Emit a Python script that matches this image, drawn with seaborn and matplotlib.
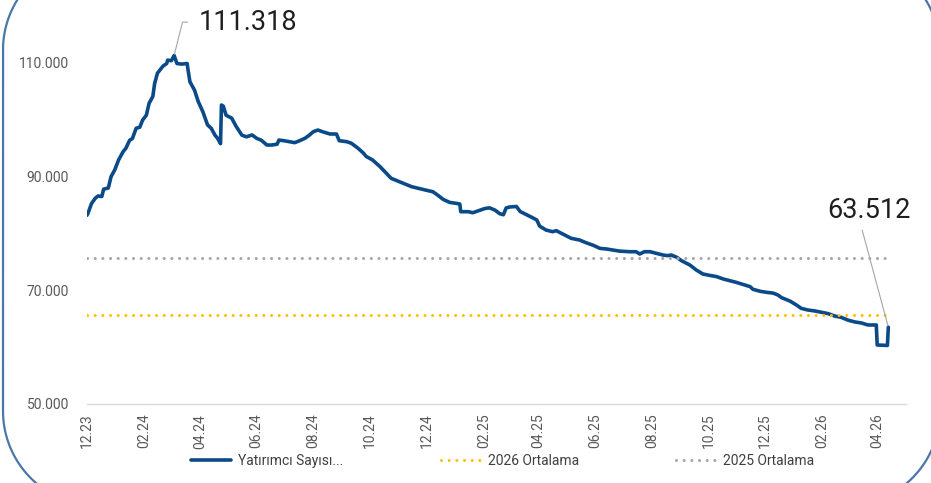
import matplotlib
matplotlib.use("Agg")
import matplotlib.pyplot as plt
import matplotlib.dates as mdates
from matplotlib.ticker import FuncFormatter, FixedLocator
import seaborn as sns
import pandas as pd
import numpy as np

# investor count
dates = [
    "2023-12-01", "2023-12-02", "2023-12-06", "2023-12-10", "2023-12-13", "2023-12-17",
    "2023-12-19", "2023-12-24", "2023-12-27", "2023-12-31", "2024-01-04", "2024-01-09",
    "2024-01-12", "2024-01-16", "2024-01-19", "2024-01-23", "2024-01-27", "2024-01-30",
    "2024-02-03", "2024-02-06", "2024-02-10", "2024-02-12", "2024-02-15", "2024-02-21",
    "2024-02-25", "2024-02-26", "2024-03-01", "2024-03-04", "2024-03-07", "2024-03-12",
    "2024-03-18", "2024-03-19", "2024-03-21", "2024-03-26", "2024-03-30", "2024-04-04",
    "2024-04-09", "2024-04-13", "2024-04-17", "2024-04-20", "2024-04-23", "2024-04-24",
    "2024-04-26", "2024-04-29", "2024-05-05", "2024-05-10", "2024-05-16", "2024-05-21",
    "2024-05-27", "2024-06-01", "2024-06-06", "2024-06-12", "2024-06-17", "2024-06-23",
    "2024-06-25", "2024-07-01", "2024-07-06", "2024-07-12", "2024-07-17", "2024-07-23",
    "2024-07-28", "2024-08-01", "2024-08-06", "2024-08-11", "2024-08-19", "2024-08-26",
    "2024-08-29", "2024-09-06", "2024-09-11", "2024-09-18", "2024-09-24", "2024-09-27",
    "2024-10-04", "2024-10-12", "2024-10-19", "2024-10-24", "2024-10-31", "2024-11-08",
    "2024-11-15", "2024-11-22", "2024-11-30", "2024-12-08", "2024-12-13", "2024-12-19",
    "2024-12-26", "2025-01-02", "2025-01-06", "2025-01-07", "2025-01-15", "2025-01-20",
    "2025-01-26", "2025-02-02", "2025-02-07", "2025-02-13", "2025-02-18", "2025-02-22",
    "2025-02-25", "2025-03-01", "2025-03-08", "2025-03-12", "2025-03-19", "2025-03-26",
    "2025-03-30", "2025-04-02", "2025-04-09", "2025-04-16", "2025-04-20", "2025-04-27",
    "2025-05-06", "2025-05-15", "2025-05-22", "2025-05-30", "2025-06-06", "2025-06-13",
    "2025-06-20", "2025-06-27", "2025-07-08", "2025-07-15", "2025-07-19", "2025-07-24",
    "2025-07-30", "2025-08-06", "2025-08-13", "2025-08-18", "2025-08-22", "2025-08-28",
    "2025-09-02", "2025-09-11", "2025-09-18", "2025-09-25", "2025-10-02", "2025-10-10",
    "2025-10-17", "2025-10-24", "2025-10-31", "2025-11-07", "2025-11-15", "2025-11-18",
    "2025-11-26", "2025-12-03", "2025-12-10", "2025-12-15", "2025-12-19", "2025-12-28",
    "2026-01-04", "2026-01-09", "2026-01-16", "2026-01-24", "2026-01-31", "2026-02-07",
    "2026-02-14", "2026-02-21", "2026-03-01", "2026-03-08", "2026-03-15", "2026-03-22",
    "2026-03-31", "2026-04-01", "2026-04-08", "2026-04-12", "2026-04-13",
]
investors = [
    83200, 83500, 85300, 86200, 86600, 86500,
    87800, 88000, 90000, 91200, 92900, 94400,
    95000, 96400, 96700, 98500, 98700, 99950,
    100800, 102900, 104100, 106400, 108200, 109450,
    109900, 110500, 110400, 111318, 109900, 109800,
    109900, 108750, 106700, 105200, 103200, 101400,
    99100, 98500, 97300, 96700, 95800, 102600,
    102400, 100800, 100300, 98800, 97300, 97000,
    97330, 96740, 96400, 95560, 95560, 95700,
    96440, 96300, 96150, 95980, 96300, 96740,
    97330, 97900, 98200, 97900, 97500, 97500,
    96320, 96150, 95880, 95030, 94150, 93560,
    92920, 91750, 90570, 89700, 89230, 88700,
    88230, 87950, 87640, 87340, 86760, 86000,
    85470, 85300, 85180, 83830, 83830, 83650,
    84000, 84390, 84510, 84100, 83480, 83300,
    84500, 84660, 84750, 83870, 83300, 82720,
    82370, 81300, 80600, 80310, 80490, 79900,
    79150, 78850, 78380, 77910, 77380, 77270,
    77090, 76900, 76790, 76790, 76390, 76790,
    76790, 76500, 76210, 76100, 76210, 75800,
    75210, 74450, 73570, 72870, 72640, 72400,
    71990, 71700, 71400, 71050, 70640, 70180,
    69820, 69640, 69500, 69170, 68700, 68100,
    67410, 66830, 66540, 66360, 66130, 65900,
    65480, 65250, 64720, 64430, 64250, 63900,
    63900, 60380, 60330, 60300, 63512,
]
avg_2026 = 65650
avg_2025 = 75700
peak_label = "111.318"
last_label = "63.512"
y_ticks = [50000, 70000, 90000, 110000]

df = pd.DataFrame({"date": pd.to_datetime(dates), "value": investors})
span = [df["date"].min(), df["date"].max()]

navy = "#0a4a88"
gold = "#ffc000"
grey = "#a6a6a6"
txt = "#595959"

sns.set_style("white")
plt.rcParams["font.family"] = ["Roboto", "DejaVu Sans"]

fig = plt.figure(figsize=(9.31, 4.83), dpi=100)


def rounded_rect(x0, y0, x1, y1, r, n=40):
    pts = []
    for cx, cy, a0 in [(x1 - r, y0 + r, -90), (x1 - r, y1 - r, 0),
                       (x0 + r, y1 - r, 90), (x0 + r, y0 + r, 180)]:
        t = np.radians(np.linspace(a0, a0 + 90, n))
        pts += list(zip(cx + r * np.cos(t), cy + r * np.sin(t)))
    pts.append(pts[0])
    return np.array(pts)


# rounded frame around the panel, drawn in a pixel-space overlay
bg = fig.add_axes([0, 0, 1, 1], zorder=-1)
bg.set_xlim(0, 931)
bg.set_ylim(483, 0)
bg.axis("off")
frame = rounded_rect(3, -45, 940, 506, 95)
bg.plot(frame[:, 0], frame[:, 1], color="#4a77a8", lw=1.6)

ax = fig.add_axes([0.0934, 0.1636, 0.8797, 0.8002])
ax.patch.set_alpha(0)

sns.lineplot(data=df, x="date", y="value", ax=ax, color=navy, lw=2.6,
             label="Yatırımcı Sayısı...")
ax.plot(span, [avg_2026, avg_2026], color=gold, lw=2.2, ls=(0, (0.01, 2.5)),
        dash_capstyle="round", label="2026 Ortalama")
ax.plot(span, [avg_2025, avg_2025], color=grey, lw=2.2, ls=(0, (0.01, 2.5)),
        dash_capstyle="round", label="2025 Ortalama")

ax.set_xlim(pd.Timestamp("2023-12-01"), pd.Timestamp("2026-05-02"))
ax.set_ylim(50000, 118000)
ax.set_xlabel("")
ax.set_ylabel("")

ticks = pd.date_range("2023-12-01", "2026-04-01", freq="2MS")
ax.xaxis.set_major_locator(FixedLocator(mdates.date2num(ticks)))
ax.xaxis.set_major_formatter(mdates.DateFormatter("%m.%y"))
ax.set_yticks(y_ticks)
ax.yaxis.set_major_formatter(FuncFormatter(lambda v, p: f"{v:,.0f}".replace(",", ".")))
ax.tick_params(axis="x", rotation=90, labelsize=10, labelcolor=txt, length=4,
               color="#d9d9d9", width=1, pad=3)
ax.tick_params(axis="y", labelsize=10, labelcolor=txt, length=0, pad=13)

for s in ["top", "right", "left"]:
    ax.spines[s].set_visible(False)
ax.spines["bottom"].set_color("#d9d9d9")
ax.spines["bottom"].set_linewidth(1)

# callouts
peak = df.loc[df["value"].idxmax()]
ax.annotate(peak_label, xy=(peak["date"], peak["value"]), xytext=(18, 24),
            textcoords="offset points", ha="left", va="center", fontsize=19.5,
            color="#1f1f1f",
            arrowprops=dict(arrowstyle="-", color=grey, lw=0.8, relpos=(0, 0.5),
                            shrinkA=6, shrinkB=1,
                            connectionstyle="angle,angleA=180,angleB=76,rad=0"))
last = df.iloc[-1]
ax.annotate(last_label, xy=(last["date"], last["value"]), xytext=(-14, 84),
            textcoords="offset points", ha="center", va="center", fontsize=19.5,
            color="#1f1f1f",
            arrowprops=dict(arrowstyle="-", color=grey, lw=0.8, relpos=(0.4, 0),
                            shrinkA=2, shrinkB=1))

leg = ax.legend(loc="lower center", bbox_to_anchor=(0.54, 0.005), bbox_transform=fig.transFigure,
                ncol=3, frameon=False, fontsize=10, handlelength=2.9, handletextpad=0.5,
                columnspacing=7)
for t in leg.get_texts():
    t.set_color("#404040")

fig.savefig("out.png", dpi=100)
